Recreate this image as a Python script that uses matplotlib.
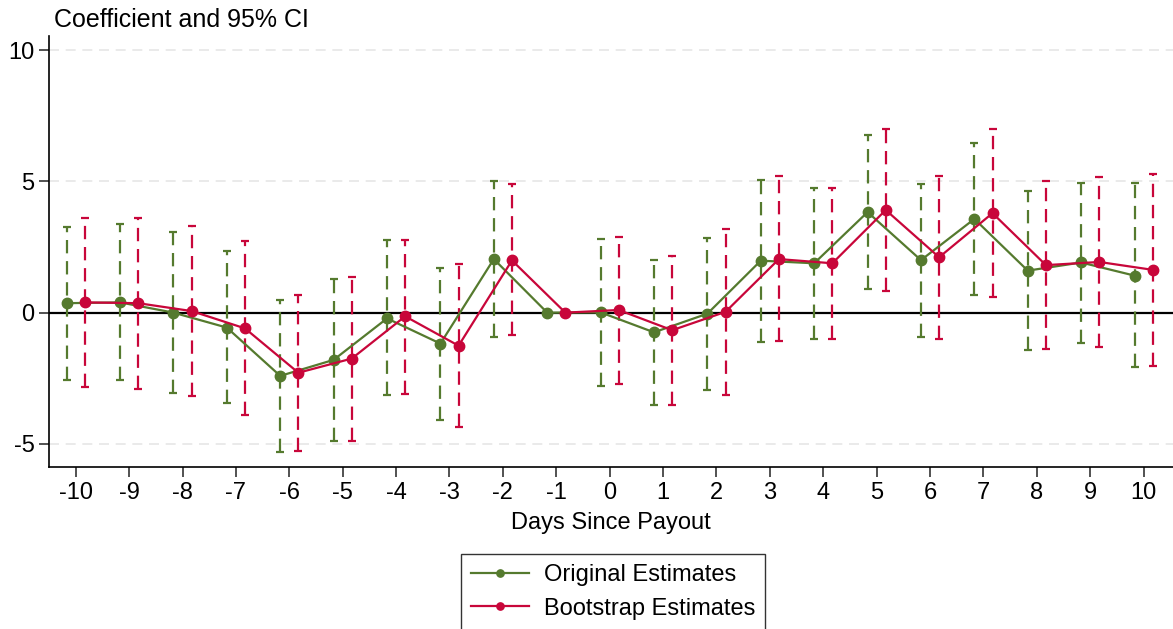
import numpy as np
import matplotlib
matplotlib.use("Agg")
import matplotlib.pyplot as plt

plt.rcParams['font.family'] = ['Liberation Sans', 'DejaVu Sans']
plt.rcParams['axes.unicode_minus'] = False

days = np.arange(-10, 11)
tick_labels = [str(d) for d in days]

# original estimates and 95% CI (day -1 is the omitted reference, no CI)
orig_coef = [0.36, 0.39, 0.00, -0.57, -2.41, -1.80, -0.22, -1.18, 2.04, 0.00, 0.01,
             -0.75, -0.04, 1.98, 1.88, 3.83, 2.00, 3.57, 1.60, 1.91, 1.41]
orig_hi = [3.28, 3.37, 3.09, 2.35, 0.48, 1.27, 2.77, 1.70, 5.03, np.nan, 2.82,
           1.99, 2.84, 5.07, 4.74, 6.77, 4.90, 6.48, 4.65, 4.94, 4.92]
orig_lo = [-2.57, -2.57, -3.07, -3.45, -5.31, -4.89, -3.14, -4.08, -0.93, np.nan, -2.78,
           -3.53, -2.96, -1.10, -1.00, 0.89, -0.93, 0.69, -1.41, -1.14, -2.08]

# bootstrap estimates and 95% CI
boot_coef = [0.39, 0.36, 0.06, -0.60, -2.29, -1.75, -0.14, -1.26, 1.99, 0.00, 0.10,
             -0.67, 0.03, 2.04, 1.88, 3.91, 2.11, 3.79, 1.81, 1.93, 1.63]
boot_hi = [3.59, 3.59, 3.30, 2.74, 0.67, 1.37, 2.78, 1.85, 4.89, np.nan, 2.90,
           2.15, 3.17, 5.19, 4.75, 6.98, 5.19, 6.99, 5.03, 5.15, 5.29]
boot_lo = [-2.82, -2.90, -3.17, -3.90, -5.26, -4.88, -3.09, -4.36, -0.86, np.nan, -2.70,
           -3.53, -3.12, -1.07, -1.00, 0.83, -0.99, 0.60, -1.40, -1.32, -2.04]

green = '#557a2e'
red = '#c8063a'
shift = 0.17
fs = 17

fig = plt.figure(figsize=(11.73, 6.29), dpi=100)
ax = fig.add_axes([0.0418, 0.2576, 0.9582, 0.6852])

ax.axhline(0, color='black', lw=1.6, zorder=1)
for yv in [10, 5, -5]:
    ax.axhline(yv, color='#e6e6e6', lw=1.2, ls=(0, (6, 4)), zorder=0)


def draw_series(xs, coef, lo, hi, col, label):
    coef = np.array(coef)
    lo = np.array(lo)
    hi = np.array(hi)
    ok = ~np.isnan(lo)
    mid = (lo + hi) / 2
    err = [mid[ok] - lo[ok], hi[ok] - mid[ok]]
    eb = ax.errorbar(xs[ok], mid[ok], yerr=err, fmt='none', ecolor=col,
                     elinewidth=1.6, capsize=3, capthick=1.6, zorder=2)
    eb[2][0].set_linestyle((0, (6, 3.5)))
    ax.plot(xs, coef, color=col, lw=1.6, marker='o', ms=7.5, label=label, zorder=3)


draw_series(days - shift, orig_coef, orig_lo, orig_hi, green, 'Original Estimates')
draw_series(days + shift, boot_coef, boot_lo, boot_hi, red, 'Bootstrap Estimates')

ax.set_xlim(-10.5, 10.55)
ax.set_ylim(-5.88, 10.54)
ax.set_xticks(days)
ax.set_xticklabels(tick_labels)
ax.set_yticks([-5, 0, 5, 10])
ax.tick_params(axis='both', labelsize=fs, length=7, width=1.2, color='#333333')
ax.spines['top'].set_visible(False)
ax.spines['right'].set_visible(False)
ax.spines['left'].set_linewidth(1.2)
ax.spines['bottom'].set_linewidth(1.2)
ax.set_xlabel('Days Since Payout', fontsize=fs, labelpad=6)

fig.text(0.046, 0.968, 'Coefficient and 95% CI', fontsize=18, va='center', ha='left')

leg = fig.legend(loc='upper center', bbox_to_anchor=(0.5226, 0.138), fontsize=fs,
                 frameon=True, fancybox=False, edgecolor='black', handlelength=2.45,
                 handletextpad=0.64, borderpad=0.42, labelspacing=0.5, markerscale=0.7)
leg.get_frame().set_linewidth(1.0)

fig.savefig('out.png', dpi=100)
